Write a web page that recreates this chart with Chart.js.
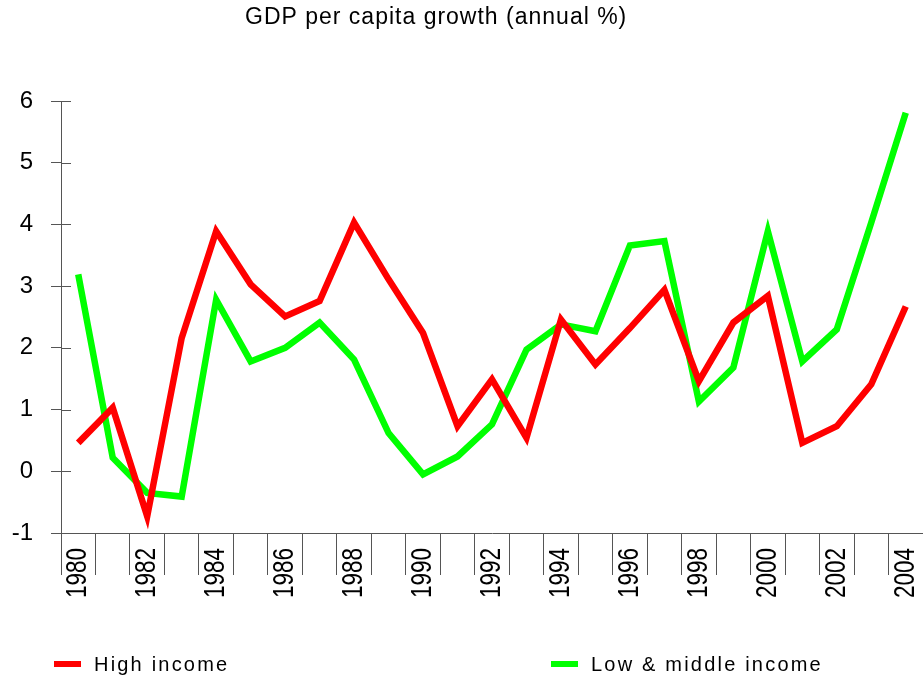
<!doctype html>
<html lang="en">
<head>
  <meta charset="utf-8">
  <title>GDP per capita growth</title>
  <script src="https://cdn.jsdelivr.net/npm/chart.js@4.4.1/dist/chart.umd.min.js"></script>
  <style>
    body { margin: 0; background: #fff; }
    canvas { display: block; }
  </style>
</head>
<body>
  <canvas id="myChart" width="923" height="681"></canvas>
  <script>
// data
var years = ["1980", "1981", "1982", "1983", "1984", "1985", "1986", "1987", "1988", "1989",
  "1990", "1991", "1992", "1993", "1994", "1995", "1996", "1997", "1998", "1999",
  "2000", "2001", "2002", "2003", "2004"];
var highIncome = [0.46, 1.03, -0.73, 2.16, 3.89, 3.03, 2.51, 2.76, 4.03, 3.11,
  2.24, 0.73, 1.49, 0.54, 2.46, 1.73, 2.32, 2.94, 1.46, 2.41,
  2.84, 0.46, 0.73, 1.41, 2.67];
var lowMiddle = [3.19, 0.22, -0.35, -0.41, 2.78, 1.78, 2.00, 2.41, 1.81, 0.62,
  -0.05, 0.24, 0.76, 1.97, 2.38, 2.27, 3.66, 3.73, 1.13, 1.68,
  3.89, 1.78, 2.30, 4.03, 5.81];
var yTicks = [-1, 0, 1, 2, 3, 4, 5, 6];
var title = "GDP per capita growth (annual %)";

var axisColor = "#555";

// the year labels in the original are squeezed; fillText's maxWidth does that
var narrowLabels = {
  id: "narrowLabels",
  beforeDraw: function(chart) {
    var ctx = chart.ctx;
    if (ctx._narrowed) return;
    var orig = ctx.fillText;
    ctx.fillText = function(t, x, y, w) {
      var m = this.getTransform();
      if (w === undefined && Math.abs(m.b) > 0.5) return orig.call(this, t, x, y, 50);
      return orig.apply(this, arguments);
    };
    ctx._narrowed = true;
  }
};

// small tick marks on the inside of the y axis
var innerTicks = {
  id: "innerTicks",
  beforeDatasetsDraw: function(chart) {
    var ctx = chart.ctx, y = chart.scales.y, left = chart.chartArea.left;
    ctx.save();
    ctx.strokeStyle = axisColor;
    ctx.lineWidth = 1;
    yTicks.forEach(function(v) {
      var py = Math.round(y.getPixelForValue(v)) + 0.5;
      ctx.beginPath();
      ctx.moveTo(left, py);
      ctx.lineTo(left + 10, py);
      ctx.stroke();
    });
    ctx.restore();
  }
};

// title and bottom legend
var titleLegend = {
  id: "titleLegend",
  afterDraw: function(chart) {
    var ctx = chart.ctx;
    ctx.save();
    ctx.fillStyle = "#000";
    ctx.textBaseline = "middle";
    ctx.textAlign = "left";
    ctx.font = "23px Arial, 'Liberation Sans', sans-serif";
    ctx.letterSpacing = "1px";
    ctx.fillText(title, 245, 18);

    var spots = [54, 551];
    ctx.font = "20px Arial, 'Liberation Sans', sans-serif";
    ctx.letterSpacing = "2.2px";
    chart.data.datasets.forEach(function(ds, i) {
      var x = spots[i];
      ctx.fillStyle = ds.borderColor;
      ctx.fillRect(x, 661, 27, 6);
      ctx.fillStyle = "#000";
      ctx.fillText(ds.label, x + 40, 665);
    });
    ctx.restore();
  }
};

var ctx = document.getElementById("myChart").getContext("2d");
var chart = new Chart(ctx, {
  type: "line",
  data: {
    labels: years,
    datasets: [
      {
        label: "High income",
        data: highIncome,
        borderColor: "#ff0000",
        backgroundColor: "#ff0000",
        borderWidth: 6.5,
        borderJoinStyle: "miter",
        pointRadius: 0,
        tension: 0
      },
      {
        label: "Low & middle income",
        data: lowMiddle,
        borderColor: "#00ff00",
        backgroundColor: "#00ff00",
        borderWidth: 6.5,
        borderJoinStyle: "miter",
        pointRadius: 0,
        tension: 0
      }
    ]
  },
  options: {
    responsive: false,
    animation: false,
    layout: { padding: { top: 101, left: 0, right: 0, bottom: 0 } },
    plugins: {
      legend: { display: false },
      title: { display: false },
      tooltip: { enabled: false }
    },
    scales: {
      x: {
        offset: true,
        afterFit: function(scale) { scale.height = 148; },
        border: { color: axisColor, width: 1 },
        grid: {
          offset: true,
          drawOnChartArea: false,
          tickLength: 42,
          color: axisColor
        },
        ticks: {
          autoSkip: false,
          maxRotation: 90,
          minRotation: 90,
          padding: -27,
          color: "#000",
          font: { family: "Arial, 'Liberation Sans', sans-serif", size: 29 },
          callback: function(val, i) { return i % 2 === 0 ? years[i] : ""; }
        }
      },
      y: {
        min: -1,
        max: 6,
        afterFit: function(scale) { scale.width = 61; },
        afterBuildTicks: function(scale) {
          scale.ticks = yTicks.map(function(v) { return { value: v }; });
        },
        border: { color: axisColor, width: 1 },
        grid: {
          drawOnChartArea: false,
          tickLength: 10,
          color: axisColor
        },
        ticks: {
          padding: 18,
          color: "#000",
          font: { family: "Arial, 'Liberation Sans', sans-serif", size: 24 }
        }
      }
    }
  },
  plugins: [narrowLabels, innerTicks, titleLegend]
});
  </script>
</body>
</html>
